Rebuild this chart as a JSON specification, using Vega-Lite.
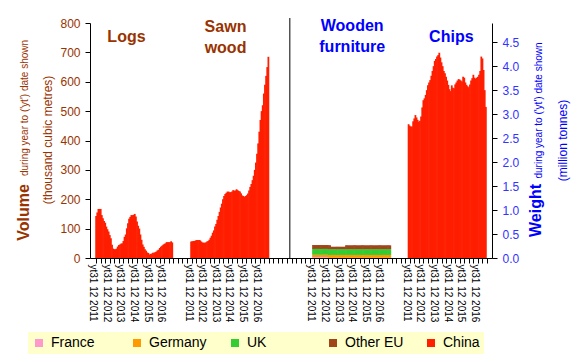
{
  "$schema": "https://vega.github.io/schema/vega-lite/v6.json",
  "width": 402,
  "height": 235,
  "autosize": {"type": "none"},
  "padding": {"left": 90, "top": 23, "right": 96, "bottom": 104},
  "background": "white",
  "config": {
    "view": {"stroke": null},
    "font": "Liberation Sans",
    "axis": {"grid": false, "domainColor": "black", "tickColor": "black", "labelFont": "Liberation Sans", "titleFont": "Liberation Sans"},
    "legend": {"title": null}
  },
  "datasets": {
    "logs": [
      {"m":0,"v":143},{"m":1,"v":155},{"m":2,"v":167},{"m":3,"v":167},{"m":4,"v":167},{"m":5,"v":146},{"m":6,"v":135},{"m":7,"v":126},{"m":8,"v":120},{"m":9,"v":107},
      {"m":10,"v":98},{"m":11,"v":90},{"m":12,"v":78},{"m":13,"v":67},{"m":14,"v":45},{"m":15,"v":32},{"m":16,"v":30},{"m":17,"v":30},{"m":18,"v":32},{"m":19,"v":39},
      {"m":20,"v":44},{"m":21,"v":46},{"m":22,"v":49},{"m":23,"v":50},{"m":24,"v":58},{"m":25,"v":72},{"m":26,"v":80},{"m":27,"v":101},{"m":28,"v":118},{"m":29,"v":134},
      {"m":30,"v":140},{"m":31,"v":146},{"m":32,"v":146},{"m":33,"v":147},{"m":34,"v":150},{"m":35,"v":141},{"m":36,"v":124},{"m":37,"v":110},{"m":38,"v":100},{"m":39,"v":80},
      {"m":40,"v":62},{"m":41,"v":46},{"m":42,"v":38},{"m":43,"v":30},{"m":44,"v":25},{"m":45,"v":19},{"m":46,"v":17},{"m":47,"v":12},{"m":48,"v":14},{"m":49,"v":15},
      {"m":50,"v":18},{"m":51,"v":18},{"m":52,"v":20},{"m":53,"v":22},{"m":54,"v":26},{"m":55,"v":28},{"m":56,"v":34},{"m":57,"v":38},{"m":58,"v":42},{"m":59,"v":45},
      {"m":60,"v":48},{"m":61,"v":50},{"m":62,"v":54},{"m":63,"v":54},{"m":64,"v":54},{"m":65,"v":54},{"m":66,"v":57},{"m":67,"v":53}
    ],
    "sawn": [
      {"m":0,"v":56},{"m":1,"v":57},{"m":2,"v":58},{"m":3,"v":58},{"m":4,"v":60},{"m":5,"v":61},{"m":6,"v":61},{"m":7,"v":61},{"m":8,"v":60},{"m":9,"v":56},
      {"m":10,"v":53},{"m":11,"v":52},{"m":12,"v":52},{"m":13,"v":53},{"m":14,"v":56},{"m":15,"v":58},{"m":16,"v":62},{"m":17,"v":69},{"m":18,"v":76},{"m":19,"v":86},
      {"m":20,"v":94},{"m":21,"v":107},{"m":22,"v":116},{"m":23,"v":130},{"m":24,"v":143},{"m":25,"v":157},{"m":26,"v":172},{"m":27,"v":185},{"m":28,"v":200},{"m":29,"v":211},
      {"m":30,"v":218},{"m":31,"v":222},{"m":32,"v":226},{"m":33,"v":226},{"m":34,"v":224},{"m":35,"v":224},{"m":36,"v":226},{"m":37,"v":231},{"m":38,"v":229},{"m":39,"v":230},
      {"m":40,"v":234},{"m":41,"v":231},{"m":42,"v":228},{"m":43,"v":226},{"m":44,"v":220},{"m":45,"v":213},{"m":46,"v":211},{"m":47,"v":208},{"m":48,"v":211},{"m":49,"v":214},
      {"m":50,"v":220},{"m":51,"v":230},{"m":52,"v":242},{"m":53,"v":252},{"m":54,"v":265},{"m":55,"v":280},{"m":56,"v":300},{"m":57,"v":325},{"m":58,"v":355},{"m":59,"v":390},
      {"m":60,"v":430},{"m":61,"v":470},{"m":62,"v":500},{"m":63,"v":520},{"m":64,"v":560},{"m":65,"v":590},{"m":66,"v":620},{"m":67,"v":650},{"m":68,"v":685}
    ],
    "furniture": [
      {"m":0,"France":0.02,"Germany":0.05,"UK":0.12,"Other EU":0.08},{"m":1,"France":0.02,"Germany":0.05,"UK":0.12,"Other EU":0.08},{"m":2,"France":0.02,"Germany":0.05,"UK":0.12,"Other EU":0.08},
      {"m":3,"France":0.02,"Germany":0.05,"UK":0.12,"Other EU":0.08},{"m":4,"France":0.02,"Germany":0.05,"UK":0.12,"Other EU":0.08},{"m":5,"France":0.02,"Germany":0.05,"UK":0.12,"Other EU":0.08},
      {"m":6,"France":0.02,"Germany":0.05,"UK":0.12,"Other EU":0.08},{"m":7,"France":0.02,"Germany":0.05,"UK":0.12,"Other EU":0.08},{"m":8,"France":0.02,"Germany":0.05,"UK":0.12,"Other EU":0.08},
      {"m":9,"France":0.02,"Germany":0.05,"UK":0.12,"Other EU":0.08},{"m":10,"France":0.02,"Germany":0.05,"UK":0.12,"Other EU":0.08},{"m":11,"France":0.02,"Germany":0.05,"UK":0.12,"Other EU":0.08},
      {"m":12,"France":0.02,"Germany":0.05,"UK":0.12,"Other EU":0.08},{"m":13,"France":0.02,"Germany":0.05,"UK":0.12,"Other EU":0.08},{"m":14,"France":0.004,"Germany":0.06,"UK":0.12,"Other EU":0.08},
      {"m":15,"France":0.004,"Germany":0.06,"UK":0.12,"Other EU":0.08},{"m":16,"France":0.004,"Germany":0.06,"UK":0.12,"Other EU":0.05},{"m":17,"France":0.004,"Germany":0.06,"UK":0.12,"Other EU":0.05},
      {"m":18,"France":0.004,"Germany":0.06,"UK":0.12,"Other EU":0.05},{"m":19,"France":0.004,"Germany":0.06,"UK":0.12,"Other EU":0.05},{"m":20,"France":0.004,"Germany":0.06,"UK":0.12,"Other EU":0.05},
      {"m":21,"France":0.004,"Germany":0.06,"UK":0.12,"Other EU":0.05},{"m":22,"France":0.004,"Germany":0.06,"UK":0.12,"Other EU":0.05},{"m":23,"France":0.004,"Germany":0.06,"UK":0.12,"Other EU":0.05},
      {"m":24,"France":0.004,"Germany":0.06,"UK":0.12,"Other EU":0.05},{"m":25,"France":0.004,"Germany":0.06,"UK":0.12,"Other EU":0.05},{"m":26,"France":0.004,"Germany":0.06,"UK":0.12,"Other EU":0.05},
      {"m":27,"France":0.004,"Germany":0.06,"UK":0.12,"Other EU":0.05},{"m":28,"France":0.004,"Germany":0.06,"UK":0.12,"Other EU":0.05},{"m":29,"France":0.004,"Germany":0.06,"UK":0.12,"Other EU":0.08},
      {"m":30,"France":0.004,"Germany":0.06,"UK":0.12,"Other EU":0.08},{"m":31,"France":0.004,"Germany":0.06,"UK":0.12,"Other EU":0.08},{"m":32,"France":0.004,"Germany":0.06,"UK":0.12,"Other EU":0.08},
      {"m":33,"France":0.004,"Germany":0.06,"UK":0.12,"Other EU":0.08},{"m":34,"France":0.004,"Germany":0.06,"UK":0.12,"Other EU":0.08},{"m":35,"France":0.004,"Germany":0.06,"UK":0.12,"Other EU":0.08},
      {"m":36,"France":0.004,"Germany":0.06,"UK":0.12,"Other EU":0.08},{"m":37,"France":0.004,"Germany":0.06,"UK":0.12,"Other EU":0.08},{"m":38,"France":0.004,"Germany":0.06,"UK":0.12,"Other EU":0.08},
      {"m":39,"France":0.004,"Germany":0.06,"UK":0.12,"Other EU":0.08},{"m":40,"France":0.004,"Germany":0.06,"UK":0.12,"Other EU":0.08},{"m":41,"France":0.004,"Germany":0.06,"UK":0.12,"Other EU":0.08},
      {"m":42,"France":0.004,"Germany":0.06,"UK":0.12,"Other EU":0.08},{"m":43,"France":0.004,"Germany":0.06,"UK":0.12,"Other EU":0.08},{"m":44,"France":0.004,"Germany":0.06,"UK":0.12,"Other EU":0.08},
      {"m":45,"France":0.004,"Germany":0.06,"UK":0.12,"Other EU":0.08},{"m":46,"France":0.004,"Germany":0.06,"UK":0.12,"Other EU":0.08},{"m":47,"France":0.004,"Germany":0.06,"UK":0.12,"Other EU":0.08},
      {"m":48,"France":0.004,"Germany":0.06,"UK":0.12,"Other EU":0.08},{"m":49,"France":0.004,"Germany":0.06,"UK":0.12,"Other EU":0.08},{"m":50,"France":0.004,"Germany":0.06,"UK":0.12,"Other EU":0.08},
      {"m":51,"France":0.004,"Germany":0.06,"UK":0.12,"Other EU":0.08},{"m":52,"France":0.004,"Germany":0.06,"UK":0.12,"Other EU":0.08},{"m":53,"France":0.004,"Germany":0.06,"UK":0.12,"Other EU":0.08},
      {"m":54,"France":0.004,"Germany":0.06,"UK":0.12,"Other EU":0.08},{"m":55,"France":0.004,"Germany":0.06,"UK":0.12,"Other EU":0.08},{"m":56,"France":0.004,"Germany":0.06,"UK":0.12,"Other EU":0.08},
      {"m":57,"France":0.004,"Germany":0.06,"UK":0.12,"Other EU":0.08},{"m":58,"France":0.004,"Germany":0.06,"UK":0.12,"Other EU":0.08},{"m":59,"France":0.004,"Germany":0.06,"UK":0.12,"Other EU":0.08},
      {"m":60,"France":0.004,"Germany":0.06,"UK":0.12,"Other EU":0.08},{"m":61,"France":0.004,"Germany":0.06,"UK":0.12,"Other EU":0.08},{"m":62,"France":0.004,"Germany":0.06,"UK":0.12,"Other EU":0.08},
      {"m":63,"France":0.004,"Germany":0.06,"UK":0.12,"Other EU":0.08},{"m":64,"France":0.004,"Germany":0.06,"UK":0.12,"Other EU":0.08},{"m":65,"France":0.004,"Germany":0.06,"UK":0.12,"Other EU":0.08},
      {"m":66,"France":0.004,"Germany":0.06,"UK":0.12,"Other EU":0.08},{"m":67,"France":0.004,"Germany":0.06,"UK":0.12,"Other EU":0.08},{"m":68,"France":0.004,"Germany":0.06,"UK":0.12,"Other EU":0.08}
    ],
    "chips": [
      {"m":0,"w":2.79},{"m":1,"w":2.76},{"m":2,"w":2.74},{"m":3,"w":2.74},{"m":4,"w":2.85},{"m":5,"w":2.91},{"m":6,"w":2.98},{"m":7,"w":2.93},{"m":8,"w":2.88},{"m":9,"w":2.84},
      {"m":10,"w":2.86},{"m":11,"w":2.95},{"m":12,"w":3.14},{"m":13,"w":3.29},{"m":14,"w":3.33},{"m":15,"w":3.40},{"m":16,"w":3.50},{"m":17,"w":3.60},{"m":18,"w":3.66},{"m":19,"w":3.71},
      {"m":20,"w":3.80},{"m":21,"w":3.90},{"m":22,"w":4.00},{"m":23,"w":4.11},{"m":24,"w":4.15},{"m":25,"w":4.20},{"m":26,"w":4.23},{"m":27,"w":4.28},{"m":28,"w":4.18},{"m":29,"w":4.08},
      {"m":30,"w":4.00},{"m":31,"w":3.90},{"m":32,"w":3.85},{"m":33,"w":3.78},{"m":34,"w":3.70},{"m":35,"w":3.61},{"m":36,"w":3.52},{"m":37,"w":3.48},{"m":38,"w":3.60},{"m":39,"w":3.55},
      {"m":40,"w":3.54},{"m":41,"w":3.62},{"m":42,"w":3.66},{"m":43,"w":3.70},{"m":44,"w":3.73},{"m":45,"w":3.72},{"m":46,"w":3.70},{"m":47,"w":3.68},{"m":48,"w":3.78},{"m":49,"w":3.76},
      {"m":50,"w":3.66},{"m":51,"w":3.61},{"m":52,"w":3.58},{"m":53,"w":3.56},{"m":54,"w":3.62},{"m":55,"w":3.70},{"m":56,"w":3.75},{"m":57,"w":3.82},{"m":58,"w":3.76},{"m":59,"w":3.74},
      {"m":60,"w":3.76},{"m":61,"w":3.78},{"m":62,"w":3.82},{"m":63,"w":3.90},{"m":64,"w":4.20},{"m":65,"w":4.16},{"m":66,"w":3.92},{"m":67,"w":3.50},{"m":68,"w":3.15}
    ]
  },
  "layer": [
    {
      "data": {"name": "logs"},
      "mark": {"type": "bar", "width": 1.8},
      "encoding": {
        "x": {
          "field": "m", "type": "quantitative",
          "scale": {"domain": [-1, 344], "nice": false, "zero": false},
          "axis": {
            "orient": "bottom", "title": null,
            "values": [0,4,8,12,16,20,24,28,32,36,40,44,48,52,56,60,64,68,72,76,80,84,88,92,96,100,104,108,112,116,120,124,128,132,136,140,144,148,152,156,160,164,168,172,176,180,184,188,192,196,200,204,208,212,216,220,224,228,232,236,240,244,248,252,256,260,264,268,272,276,280,284,288,292,296,300,304,308,312,316,320,324,328,332,336,340,344],
            "labelExpr": "datum.value <= 60 && datum.value % 12 == 0 ? 'yt31 12 ' + (2011 + datum.value / 12) : (datum.value >= 84 && datum.value <= 144 && (datum.value - 84) % 12 == 0 ? 'yt31 12 ' + (2011 + (datum.value - 84) / 12) : (datum.value >= 192 && datum.value <= 252 && (datum.value - 192) % 12 == 0 ? 'yt31 12 ' + (2011 + (datum.value - 192) / 12) : (datum.value >= 276 && datum.value <= 336 && (datum.value - 276) % 12 == 0 ? 'yt31 12 ' + (2011 + (datum.value - 276) / 12) : '')))",
            "labelAngle": 90, "labelFontSize": 10, "labelColor": "black",
            "labelOverlap": false, "labelFlush": false, "labelBound": false,
            "labelPadding": 1, "labelOffset": -3.5, "tickSize": 5
          }
        },
        "y": {
          "field": "v", "type": "quantitative",
          "scale": {"domain": [0, 800], "nice": false},
          "axis": {
            "orient": "left", "values": [0,100,200,300,400,500,600,700,800],
            "labelColor": "#993300", "labelFontSize": 12, "tickSize": 5, "labelPadding": 5,
            "title": "(thousand cubic metres)", "titleColor": "#993300", "titleFontSize": 12, "titleFontWeight": "normal",
            "titleAngle": -90, "titleX": -43, "titleY": 116.5, "titleAlign": "center", "titleBaseline": "middle"
          }
        },
        "color": {
          "datum": "China", "type": "nominal", "title": null,
          "scale": {"domain": ["France", "Germany", "UK", "Other EU", "China"], "range": ["#FF99CC", "#FF9900", "#33CC33", "#A0451A", "#FF1E00"]},
          "legend": {
            "orient": "none", "legendX": -62, "legendY": 309, "direction": "horizontal", "columns": 5,
            "gridAlign": "all", "columnPadding": 20, "fillColor": "#FFFFCC", "padding": 4,
            "symbolType": "square", "symbolSize": 64, "symbolStrokeWidth": 0, "symbolOpacity": 1,
            "labelFontSize": 14, "labelColor": "black", "labelFont": "Liberation Sans", "labelOffset": 5, "title": null
          }
        }
      }
    },
    {
      "data": {"name": "sawn"},
      "mark": {"type": "bar", "width": 1.8},
      "encoding": {
        "x": {"field": "m", "type": "quantitative", "scale": {"domain": [-84.6, 260.4], "nice": false, "zero": false}, "axis": null},
        "y": {
          "field": "v", "type": "quantitative", "scale": {"domain": [0, 800], "nice": false},
          "axis": {
            "orient": "left", "domain": false, "ticks": false, "labels": false,
            "title": "Volume", "titleColor": "#993300", "titleFontSize": 16, "titleFontWeight": "bold",
            "titleAngle": -90, "titleX": -62, "titleY": 189, "titleAlign": "center", "titleBaseline": "alphabetic"
          }
        },
        "color": {"datum": "China", "type": "nominal", "title": null}
      }
    },
    {
      "data": {"name": "furniture"},
      "transform": [
        {"fold": ["France", "Germany", "UK", "Other EU"], "as": ["country", "w"]},
        {"calculate": "indexof(['France', 'Germany', 'UK', 'Other EU'], datum.country)", "as": "stackOrder"}
      ],
      "mark": {"type": "bar", "width": 1.8},
      "encoding": {
        "x": {"field": "m", "type": "quantitative", "scale": {"domain": [-191.9, 153.1], "nice": false, "zero": false}, "axis": null},
        "y": {
          "field": "w", "type": "quantitative", "stack": "zero", "scale": {"domain": [0, 4.9], "nice": false},
          "axis": {
            "orient": "right", "values": [0,0.5,1,1.5,2,2.5,3,3.5,4,4.5], "format": ".1f",
            "labelColor": "#3333FF", "labelFontSize": 12, "tickSize": 5, "labelPadding": 5,
            "title": "(million tonnes)", "titleColor": "#0000FF", "titleFontSize": 12, "titleFontWeight": "normal",
            "titleAngle": -90, "titleX": 70, "titleY": 117, "titleAlign": "center", "titleBaseline": "middle"
          }
        },
        "color": {"field": "country", "type": "nominal", "title": null},
        "order": {"field": "stackOrder", "type": "quantitative", "sort": "ascending"}
      }
    },
    {
      "data": {"name": "chips"},
      "mark": {"type": "bar", "width": 1.8},
      "encoding": {
        "x": {"field": "m", "type": "quantitative", "scale": {"domain": [-276, 69], "nice": false, "zero": false}, "axis": null},
        "y": {
          "field": "w", "type": "quantitative", "scale": {"domain": [0, 4.9], "nice": false},
          "axis": {
            "orient": "right", "domain": false, "ticks": false, "labels": false,
            "title": "Weight", "titleColor": "#0000FF", "titleFontSize": 16, "titleFontWeight": "bold",
            "titleAngle": -90, "titleX": 48.6, "titleY": 187, "titleAlign": "center", "titleBaseline": "alphabetic"
          }
        },
        "color": {"datum": "China", "type": "nominal", "title": null}
      }
    },
    {
      "data": {"values": [{"divider": "Volume | Weight"}]},
      "mark": {"type": "rule", "color": "black", "strokeWidth": 1},
      "encoding": {
        "x": {"datum": 171, "type": "quantitative", "scale": {"domain": [-0.5, 344.5], "nice": false, "zero": false}, "axis": null},
        "y": {
          "datum": 0, "type": "quantitative", "scale": {"domain": [0, 800], "nice": false},
          "axis": {
            "orient": "left", "domain": false, "ticks": false, "labels": false,
            "title": "during year to ('yt') date shown", "titleColor": "#993300", "titleFontSize": 10, "titleFontWeight": "normal",
            "titleAngle": -90, "titleX": -63, "titleY": 84.5, "titleAlign": "center", "titleBaseline": "alphabetic"
          }
        },
        "y2": {"datum": 817}
      }
    },
    {
      "data": {"values": [{"title": "Logs"}]},
      "mark": {"type": "text", "font": "Liberation Sans", "fontSize": 16, "fontWeight": "bold", "color": "#993300", "align": "center", "baseline": "alphabetic"},
      "encoding": {
        "text": {"field": "title"},
        "x": {"datum": 30.8, "type": "quantitative", "scale": {"domain": [-0.5, 344.5], "nice": false, "zero": false}, "axis": null},
        "y": {
          "datum": 736, "type": "quantitative", "scale": {"domain": [0, 800], "nice": false},
          "axis": {
            "orient": "right", "domain": false, "ticks": false, "labels": false,
            "title": "during year to ('yt') date shown", "titleColor": "#0000FF", "titleFontSize": 10, "titleFontWeight": "normal",
            "titleAngle": -90, "titleX": 49, "titleY": 87, "titleAlign": "center", "titleBaseline": "alphabetic"
          }
        }
      }
    },
    {
      "data": {"values": [{"title": "Sawn\nwood"}]},
      "mark": {"type": "text", "font": "Liberation Sans", "fontSize": 16, "fontWeight": "bold", "color": "#993300", "align": "center", "baseline": "alphabetic", "lineBreak": "\n", "lineHeight": 21.6},
      "encoding": {
        "text": {"field": "title"},
        "x": {"datum": 115.8, "type": "quantitative", "scale": {"domain": [-0.5, 344.5], "nice": false, "zero": false}, "axis": null},
        "y": {"datum": 770.4, "type": "quantitative", "scale": {"domain": [0, 800], "nice": false}, "axis": null}
      }
    },
    {
      "data": {"values": [{"title": "Wooden\nfurniture"}]},
      "mark": {"type": "text", "font": "Liberation Sans", "fontSize": 16, "fontWeight": "bold", "color": "#0000FF", "align": "center", "baseline": "alphabetic", "lineBreak": "\n", "lineHeight": 21.6},
      "encoding": {
        "text": {"field": "title"},
        "x": {"datum": 224.5, "type": "quantitative", "scale": {"domain": [-0.5, 344.5], "nice": false, "zero": false}, "axis": null},
        "y": {"datum": 773.8, "type": "quantitative", "scale": {"domain": [0, 800], "nice": false}, "axis": null}
      }
    },
    {
      "data": {"values": [{"title": "Chips"}]},
      "mark": {"type": "text", "font": "Liberation Sans", "fontSize": 16, "fontWeight": "bold", "color": "#0000FF", "align": "center", "baseline": "alphabetic"},
      "encoding": {
        "text": {"field": "title"},
        "x": {"datum": 309.6, "type": "quantitative", "scale": {"domain": [-0.5, 344.5], "nice": false, "zero": false}, "axis": null},
        "y": {"datum": 736, "type": "quantitative", "scale": {"domain": [0, 800], "nice": false}, "axis": null}
      }
    }
  ],
  "resolve": {"scale": {"x": "independent", "y": "independent"}, "axis": {"x": "independent", "y": "independent"}}
}
